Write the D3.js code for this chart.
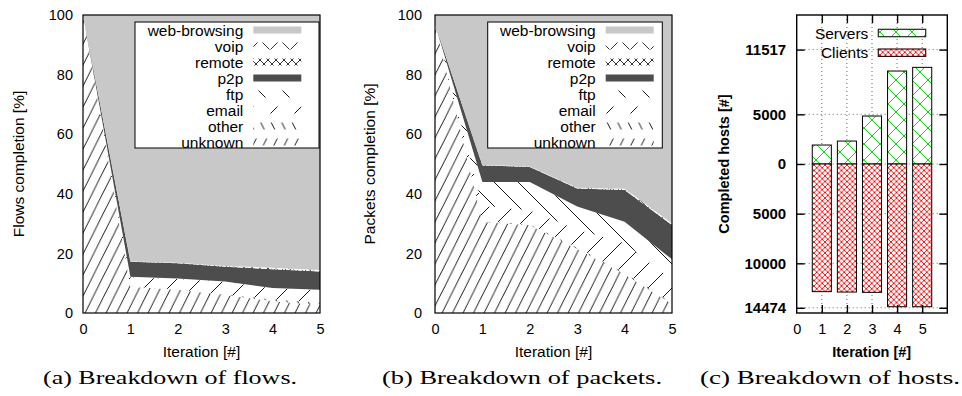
<!DOCTYPE html>
<html>
<head>
<meta charset="utf-8">
<script src="https://cdn.jsdelivr.net/npm/d3@7"></script>
<style>
  body { margin: 0; background: #fff; }
  svg { display: block; }
  text { font-family: "Liberation Sans", Arial, sans-serif; fill: #000; }
  .cap { font-family: "Liberation Serif", "DejaVu Serif", serif; }
</style>
</head>
<body>
<svg id="fig" width="962" height="396"></svg>
<script>
// ---- data ----
const iterations = [0, 1, 2, 3, 4, 5];
const layers = ["unknown", "other", "email", "ftp", "p2p", "remote", "voip", "web-browsing"];

// flows completion [%], one value per iteration
const flowsUnknown = [100, 8.8, 7.8, 6.0, 4.0, 2.5];
const flowsOther   = [0, 0.1, 0.1, 0.2, 0.6, 1.0];
const flowsEmail   = [0, 3.1, 3.5, 4.3, 3.7, 4.2];
const flowsFtp     = [0, 0.2, 0.2, 0.1, 0.1, 0.1];
const flowsP2p     = [0, 5.0, 5.1, 4.9, 6.3, 6.1];
const flowsRemote  = [0, 0.1, 0.1, 0.2, 0.3, 0.3];
const flowsVoip    = [0, 0.1, 0.1, 0.1, 0.2, 0.2];
const flowsWeb     = [0, 82.6, 83.1, 84.2, 84.8, 85.6];

// packets completion [%]
const packetsUnknown = [97, 30.5, 29.5, 21.5, 13.0, 3.0];
const packetsOther   = [0, 0.3, 0.3, 0.5, 0.5, 0.5];
const packetsEmail   = [0, 5.2, 4.7, 6.0, 10.0, 7.5];
const packetsFtp     = [0, 8.0, 9.5, 7.7, 7.1, 7.0];
const packetsP2p     = [0, 5.5, 5.0, 6.1, 10.7, 11.5];
const packetsRemote  = [0, 0.1, 0.1, 0.1, 0.2, 0.3];
const packetsVoip    = [0, 0.1, 0.1, 0.1, 0.2, 0.2];
const packetsWeb     = [3, 50.3, 50.8, 58.0, 58.3, 70.0];

const pctTicks = [0, 20, 40, 60, 80, 100];

// hosts
const hostIterations = [1, 2, 3, 4, 5];
const servers = [1910, 2310, 4830, 9360, 9730];
const clients = [12850, 12890, 12920, 14370, 14370];
const hostTicksUp = [11517, 5000];
const hostTicksDown = [5000, 10000, 14474];

// ---- setup ----
const svg = d3.select("#fig");
const defs = svg.append("defs");

function linePattern(id, w, h, dir, color, sw) {
  const p = defs.append("pattern").attr("id", id)
    .attr("patternUnits", "userSpaceOnUse")
    .attr("width", w).attr("height", h);
  p.append("rect").attr("width", w).attr("height", h).attr("fill", "#fff");
  [-1, 0, 1].forEach(k => {
    const x0 = k * w;
    const s = dir > 0
      ? [x0 - w / 2, h * 1.5, x0 + w * 1.5, -h / 2]
      : [x0 - w / 2, -h / 2, x0 + w * 1.5, h * 1.5];
    p.append("line")
      .attr("x1", s[0]).attr("y1", s[1]).attr("x2", s[2]).attr("y2", s[3])
      .attr("stroke", color).attr("stroke-width", sw);
  });
}

function crossPattern(id, s, color, sw) {
  const p = defs.append("pattern").attr("id", id)
    .attr("patternUnits", "userSpaceOnUse")
    .attr("width", s).attr("height", s);
  p.append("rect").attr("width", s).attr("height", s).attr("fill", "#fff");
  [-1, 0, 1].forEach(k => {
    const x0 = k * s;
    p.append("line").attr("x1", x0 - s / 2).attr("y1", s * 1.5).attr("x2", x0 + s * 1.5).attr("y2", -s / 2)
      .attr("stroke", color).attr("stroke-width", sw);
    p.append("line").attr("x1", x0 - s / 2).attr("y1", -s / 2).attr("x2", x0 + s * 1.5).attr("y2", s * 1.5)
      .attr("stroke", color).attr("stroke-width", sw);
  });
}

linePattern("pat-unknown", 10.5, 21, 1, "#000", 0.9);
linePattern("pat-other", 10.5, 21, -1, "#000", 0.9);
linePattern("pat-email", 24, 24, 1, "#000", 0.9);
linePattern("pat-ftp", 24, 24, -1, "#000", 0.9);
crossPattern("pat-remote", 8, "#000", 0.8);
crossPattern("pat-voip", 20, "#000", 0.8);
crossPattern("pat-servers", 16, "#00e600", 1);
crossPattern("pat-clients", 5.5, "#ff0000", 0.9);

const fills = {
  "unknown": "url(#pat-unknown)",
  "other": "url(#pat-other)",
  "email": "url(#pat-email)",
  "ftp": "url(#pat-ftp)",
  "p2p": "#4d4d4d",
  "remote": "url(#pat-remote)",
  "voip": "url(#pat-voip)",
  "web-browsing": "#c8c8c8"
};

// ---- stacked breakdown chart (a) and (b) ----
function breakdown(cfg) {
  const rows = iterations.map((it, i) => {
    const r = { iteration: it };
    layers.forEach((k, j) => r[k] = cfg.series[j][i]);
    return r;
  });
  const stacked = d3.stack().keys(layers)(rows);

  const x = d3.scaleLinear().domain([0, 5]).range([cfg.left, cfg.right]);
  const y = d3.scaleLinear().domain([0, 100]).range([313, 15]);

  const area = d3.area()
    .x(d => x(d.data.iteration))
    .y0(d => y(d[0]))
    .y1(d => y(d[1]));

  const g = svg.append("g");
  g.selectAll(".layer")
    .data(stacked)
    .enter()
    .append("path")
    .attr("class", "layer")
    .attr("d", area)
    .attr("fill", d => fills[d.key]);

  g.append("rect")
    .attr("x", cfg.left).attr("y", 15)
    .attr("width", cfg.right - cfg.left).attr("height", 298)
    .attr("fill", "none").attr("stroke", "#000").attr("stroke-width", 1.2);

  const gx = g.append("g").attr("transform", "translate(0,313)")
    .call(d3.axisBottom(x).tickValues(iterations).tickFormat(d3.format("d")).tickSize(0).tickPadding(10.7));
  const gy = g.append("g").attr("transform", `translate(${cfg.left},0)`)
    .call(d3.axisLeft(y).tickValues(pctTicks).tickSize(0).tickPadding(cfg.left - cfg.labelRight));
  [gx, gy].forEach(a => {
    a.select(".domain").remove();
    a.selectAll("text").attr("font-size", 14.5).attr("font-family", null);
  });

  g.append("text")
    .attr("x", (cfg.left + cfg.right) / 2).attr("y", 357)
    .attr("text-anchor", "middle").attr("font-size", 15.5)
    .text("Iteration [#]");
  g.append("text")
    .attr("transform", `translate(${cfg.ylabX},164) rotate(-90)`)
    .attr("text-anchor", "middle").attr("font-size", 15.5)
    .text(cfg.ylabel);

  // legend
  const lg = g.append("g");
  lg.append("rect")
    .attr("x", cfg.keyX0).attr("y", 22)
    .attr("width", cfg.keyX1 - cfg.keyX0).attr("height", 126)
    .attr("fill", "#fff").attr("stroke", "#000").attr("stroke-width", 1);
  const keyOrder = layers.slice().reverse();
  keyOrder.forEach((k, i) => {
    const cy = 30 + i * 16;
    lg.append("text")
      .attr("x", cfg.keyText).attr("y", cy + 5.5)
      .attr("text-anchor", "end").attr("font-size", 15.5)
      .text(k);
    lg.append("rect")
      .attr("x", cfg.keyText + 10).attr("y", cy - 3.5)
      .attr("width", 48).attr("height", 7)
      .attr("fill", fills[k]);
  });

  svg.append("text").attr("class", "cap")
    .attr("x", cfg.capX).attr("y", 384)
    .attr("font-size", 19)
    .attr("textLength", cfg.capW).attr("lengthAdjust", "spacingAndGlyphs")
    .text(cfg.caption);
}

breakdown({
  left: 83, right: 320, labelRight: 73, ylabX: 24,
  ylabel: "Flows completion [%]",
  series: [flowsUnknown, flowsOther, flowsEmail, flowsFtp, flowsP2p, flowsRemote, flowsVoip, flowsWeb],
  keyX0: 135, keyX1: 319, keyText: 243.3,
  capX: 43, capW: 254, caption: "(a) Breakdown of flows."
});

breakdown({
  left: 435, right: 672, labelRight: 422, ylabX: 375,
  ylabel: "Packets completion [%]",
  series: [packetsUnknown, packetsOther, packetsEmail, packetsFtp, packetsP2p, packetsRemote, packetsVoip, packetsWeb],
  keyX0: 487.7, keyX1: 662.3, keyText: 595.7,
  capX: 382, capW: 280, caption: "(b) Breakdown of packets."
});

// ---- hosts chart (c) ----
(function () {
  const left = 796.7, right = 947.3, top = 15, bottom = 313;
  const x = d3.scaleLinear().domain([0, 6]).range([left, right]);
  const y = d3.scaleLinear().domain([-15000, 15000]).range([bottom, top]);
  const yTicks = hostTicksUp.concat([0], hostTicksDown.map(v => -v));
  const barW = x(0.76) - x(0);

  const g = svg.append("g");

  // grid
  g.selectAll(".vgrid").data(hostIterations).enter().append("line")
    .attr("x1", d => x(d)).attr("x2", d => x(d))
    .attr("y1", top).attr("y2", bottom)
    .attr("stroke", "#444").attr("stroke-width", 0.8).attr("stroke-dasharray", "1,3");
  g.selectAll(".hgrid").data(yTicks).enter().append("line")
    .attr("x1", left).attr("x2", right)
    .attr("y1", d => y(d)).attr("y2", d => y(d))
    .attr("stroke", "#444").attr("stroke-width", 0.8).attr("stroke-dasharray", "1,3");

  // bars
  g.selectAll(".srv").data(servers).enter().append("rect")
    .attr("x", (d, i) => x(hostIterations[i]) - barW / 2)
    .attr("y", d => y(d))
    .attr("width", barW).attr("height", d => y(0) - y(d))
    .attr("fill", "url(#pat-servers)").attr("stroke", "#000").attr("stroke-width", 1);
  g.selectAll(".cli").data(clients).enter().append("rect")
    .attr("x", (d, i) => x(hostIterations[i]) - barW / 2)
    .attr("y", y(0))
    .attr("width", barW).attr("height", d => y(-d) - y(0))
    .attr("fill", "url(#pat-clients)").attr("stroke", "#000").attr("stroke-width", 1);

  // frame + inward ticks
  g.append("rect")
    .attr("x", left).attr("y", top).attr("width", right - left).attr("height", bottom - top)
    .attr("fill", "none").attr("stroke", "#000").attr("stroke-width", 1.4);

  const fmt = v => d3.format("d")(Math.abs(v));
  const gl = g.append("g").attr("transform", `translate(${left},0)`)
    .call(d3.axisLeft(y).tickValues(yTicks).tickFormat(fmt).tickSize(-8).tickPadding(10.5));
  gl.selectAll("text").attr("font-size", 15).attr("font-weight", "bold").attr("font-family", null);
  const gr = g.append("g").attr("transform", `translate(${right},0)`)
    .call(d3.axisRight(y).tickValues(yTicks).tickFormat("").tickSize(-8));
  const gb = g.append("g").attr("transform", `translate(0,${bottom})`)
    .call(d3.axisBottom(x).tickValues(iterations).tickFormat(d3.format("d")).tickSize(-8).tickPadding(10.7));
  gb.selectAll("text").attr("font-size", 14.5).attr("font-family", null);
  gb.selectAll(".tick").filter(d => d === 0).select("line").remove();
  const gt = g.append("g").attr("transform", `translate(0,${top})`)
    .call(d3.axisTop(x).tickValues(hostIterations).tickFormat("").tickSize(-8));
  [gl, gr, gb, gt].forEach(a => {
    a.select(".domain").remove();
    a.selectAll("line").attr("stroke", "#000").attr("stroke-width", 1.4);
  });

  g.append("text")
    .attr("x", 871.7).attr("y", 357)
    .attr("text-anchor", "middle").attr("font-size", 14.5).attr("font-weight", "bold")
    .text("Iteration [#]");
  g.append("text")
    .attr("transform", "translate(729,164) rotate(-90)")
    .attr("text-anchor", "middle").attr("font-size", 14.5).attr("font-weight", "bold")
    .text("Completed hosts [#]");

  // legend
  const keys = [["Servers", "url(#pat-servers)", "#163016", 33], ["Clients", "url(#pat-clients)", "#301010", 52.7]];
  keys.forEach(k => {
    g.append("text")
      .attr("x", 868.3).attr("y", k[3] + 5.5)
      .attr("text-anchor", "end").attr("font-size", 15.5)
      .text(k[0]);
    g.append("rect")
      .attr("x", 878.3).attr("y", k[3] - 3.7)
      .attr("width", 47.4).attr("height", 7.4)
      .attr("fill", k[1]).attr("stroke", k[2]).attr("stroke-width", 1.2);
  });

  svg.append("text").attr("class", "cap")
    .attr("x", 700).attr("y", 384)
    .attr("font-size", 19)
    .attr("textLength", 260).attr("lengthAdjust", "spacingAndGlyphs")
    .text("(c) Breakdown of hosts.");
})();
</script>
</body>
</html>
